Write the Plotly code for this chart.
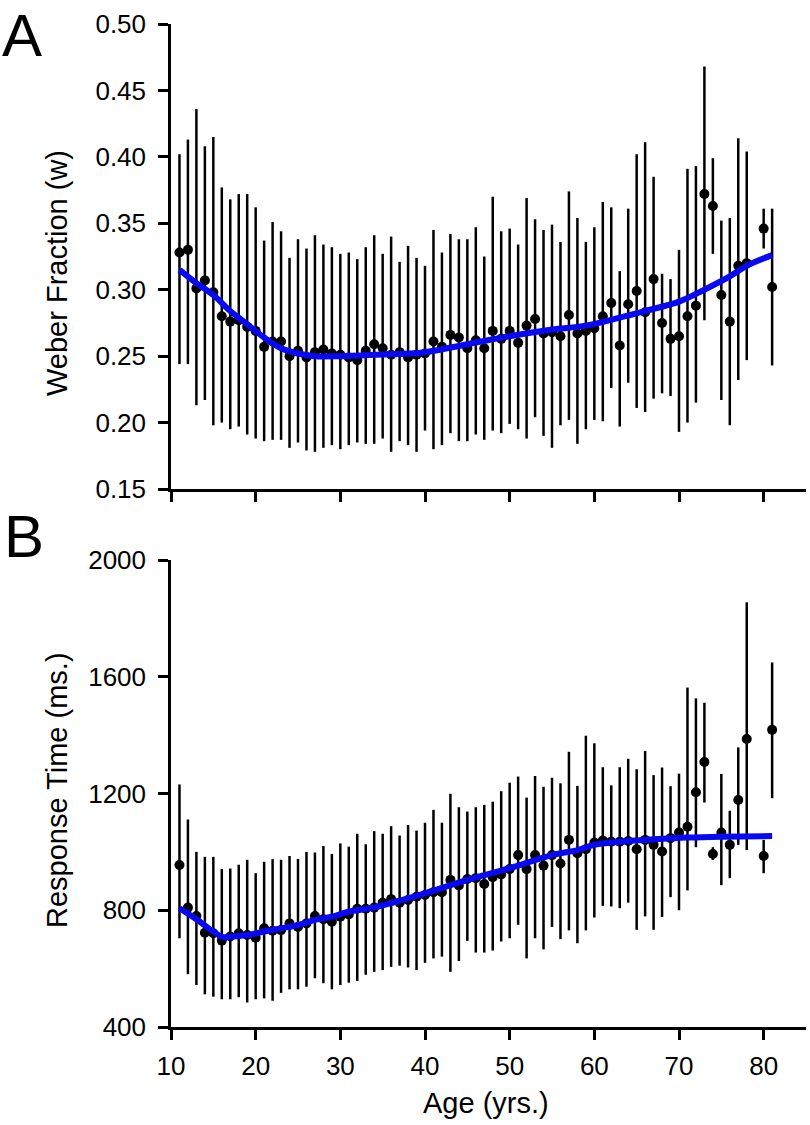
import plotly.graph_objects as go

# ---------------- data ----------------
ages = list(range(11, 79)) + [80, 81]

weber_mean = [0.328, 0.330, 0.301, 0.307, 0.298, 0.280, 0.276, 0.277, 0.272, 0.269,
              0.257, 0.261, 0.261, 0.250, 0.254, 0.249, 0.253, 0.255, 0.252, 0.251,
              0.249, 0.247, 0.254, 0.259, 0.256, 0.251, 0.253, 0.249, 0.251, 0.252,
              0.261, 0.257, 0.266, 0.264, 0.256, 0.262, 0.256, 0.269, 0.263, 0.269,
              0.260, 0.273, 0.278, 0.267, 0.268, 0.265, 0.281, 0.267, 0.269, 0.271,
              0.280, 0.290, 0.258, 0.289, 0.299, 0.283, 0.308, 0.275, 0.263, 0.265,
              0.280, 0.288, 0.372, 0.363, 0.296, 0.276, 0.318, 0.320,
              0.346, 0.302]
weber_upper = [0.402, 0.413, 0.436, 0.408, 0.415, 0.377, 0.368, 0.372, 0.372, 0.362,
               0.337, 0.351, 0.344, 0.324, 0.338, 0.331, 0.341, 0.334, 0.332, 0.327,
               0.328, 0.323, 0.332, 0.341, 0.327, 0.340, 0.321, 0.333, 0.324, 0.318,
               0.345, 0.328, 0.342, 0.338, 0.338, 0.347, 0.325, 0.370, 0.344, 0.346,
               0.334, 0.369, 0.353, 0.345, 0.349, 0.336, 0.374, 0.354, 0.336, 0.347,
               0.366, 0.362, 0.314, 0.361, 0.402, 0.411, 0.385, 0.312, 0.308, 0.330,
               0.391, 0.393, 0.468, 0.399, 0.352, 0.354, 0.414, 0.404,
               0.361, 0.361]
weber_lower = [0.244, 0.244, 0.213, 0.217, 0.198, 0.200, 0.195, 0.197, 0.191, 0.188,
               0.186, 0.187, 0.187, 0.181, 0.185, 0.179, 0.178, 0.181, 0.183, 0.180,
               0.183, 0.185, 0.184, 0.184, 0.188, 0.178, 0.186, 0.183, 0.178, 0.194,
               0.180, 0.183, 0.192, 0.186, 0.186, 0.191, 0.187, 0.194, 0.192, 0.199,
               0.195, 0.188, 0.204, 0.190, 0.181, 0.198, 0.202, 0.184, 0.195, 0.202,
               0.201, 0.226, 0.197, 0.230, 0.211, 0.208, 0.218, 0.222, 0.220, 0.193,
               0.200, 0.215, 0.277, 0.327, 0.217, 0.198, 0.232, 0.247,
               0.331, 0.243]

weber_fit_ages = [11, 13, 15, 17, 19, 21, 23, 25, 27, 30, 34, 40, 45, 50, 55, 59, 63, 66, 70, 73, 76, 78, 81]
weber_fit = [0.315, 0.305, 0.296, 0.284, 0.274, 0.264, 0.256, 0.252, 0.250, 0.250, 0.251, 0.253,
             0.259, 0.265, 0.270, 0.273, 0.279, 0.284, 0.291, 0.300, 0.310, 0.318, 0.326]

rt_mean = [955, 809, 780, 723, 721, 696, 710, 721, 715, 706,
           738, 730, 732, 755, 743, 755, 780, 769, 761, 778,
           786, 805, 805, 809, 826, 838, 826, 835, 846, 852,
           862, 862, 904, 885, 907, 910, 890, 913, 923, 941,
           989, 941, 989, 953, 989, 960, 1041, 995, 1009, 1032,
           1039, 1035, 1035, 1037, 1009, 1041, 1024, 1001, 1047, 1066,
           1086, 1204, 1308, 993, 1066, 1024, 1178, 1387,
           986, 1418]
rt_upper = [1231, 1111, 1000, 983, 983, 941, 943, 956, 973, 927,
            966, 975, 973, 986, 976, 1000, 998, 1020, 993, 1029,
            1018, 1062, 1026, 1071, 1062, 1088, 1056, 1092, 1073, 1100,
            1144, 1100, 1199, 1153, 1138, 1153, 1161, 1172, 1208, 1237,
            1258, 1186, 1260, 1223, 1254, 1235, 1343, 1226, 1398, 1372,
            1290, 1228, 1290, 1319, 1283, 1346, 1263, 1289, 1225, 1268,
            1563, 1526, 1511, 1016, 1267, 1141, 1358, 1855,
            1041, 1649]
rt_lower = [704, 581, 544, 512, 504, 495, 495, 502, 484, 495,
            498, 490, 517, 529, 529, 538, 567, 550, 529, 544,
            552, 558, 579, 589, 595, 606, 610, 604, 595, 620,
            635, 641, 589, 626, 695, 655, 655, 662, 693, 704,
            750, 635, 704, 666, 743, 701, 731, 687, 731, 775,
            815, 813, 807, 826, 733, 779, 733, 777, 845, 800,
            868, 1016, 1169, 972, 886, 910, 1024, 1006,
            927, 1184]

rt_fit_ages = [11, 13, 15, 16, 17, 19, 21, 23, 25, 27, 29, 31, 34, 40, 45, 50, 55, 58, 60, 63, 67, 71, 75, 81]
rt_fit = [807, 769, 727, 709, 709, 715, 727, 738, 749, 767, 778, 795, 810, 858, 904, 944, 989,
          1006, 1024, 1035, 1043, 1049, 1052, 1054]

age_ticks = [10, 20, 30, 40, 50, 60, 70, 80]
weber_ticks = [0.15, 0.20, 0.25, 0.30, 0.35, 0.40, 0.45, 0.50]
rt_ticks = [400, 800, 1200, 1600, 2000]

# ---------------- layout helpers ----------------
W, H = 810, 1125
L, R, T, B = 171, 4, 24, 98
PW, PH = W - L - R, H - T - B


def px_x(px):
    return (px - L) / PW


def px_y(py):
    return (H - B - py) / PH


FONT = "Liberation Sans, Arial, Helvetica, sans-serif"
BLACK = "black"
BLUE = "#0808f2"

fig = go.Figure()

fig.add_trace(go.Scatter(
    x=ages, y=weber_mean, mode="markers",
    marker=dict(color=BLACK, size=10),
    error_y=dict(type="data", symmetric=False,
                 array=[u - m for u, m in zip(weber_upper, weber_mean)],
                 arrayminus=[m - l for m, l in zip(weber_mean, weber_lower)],
                 color=BLACK, thickness=2.5, width=0),
    xaxis="x", yaxis="y", showlegend=False, cliponaxis=False))
fig.add_trace(go.Scatter(
    x=weber_fit_ages, y=weber_fit, mode="lines",
    line=dict(color=BLUE, width=6, shape="spline", smoothing=1.0),
    xaxis="x", yaxis="y", showlegend=False))

fig.add_trace(go.Scatter(
    x=ages, y=rt_mean, mode="markers",
    marker=dict(color=BLACK, size=10),
    error_y=dict(type="data", symmetric=False,
                 array=[u - m for u, m in zip(rt_upper, rt_mean)],
                 arrayminus=[m - l for m, l in zip(rt_mean, rt_lower)],
                 color=BLACK, thickness=2.5, width=0),
    xaxis="x2", yaxis="y2", showlegend=False, cliponaxis=False))
fig.add_trace(go.Scatter(
    x=rt_fit_ages, y=rt_fit, mode="lines",
    line=dict(color=BLUE, width=6, shape="spline", smoothing=1.0),
    xaxis="x2", yaxis="y2", showlegend=False))

axis_common = dict(showline=True, linecolor=BLACK, linewidth=2.5,
                   ticks="outside", ticklen=10, tickwidth=2.5, tickcolor=BLACK,
                   showgrid=False, zeroline=False,
                   tickfont=dict(family=FONT, size=26, color=BLACK))

fig.update_layout(
    width=W, height=H,
    margin=dict(l=L, r=R, t=T, b=B, pad=0),
    paper_bgcolor="white", plot_bgcolor="white",
    showlegend=False,
    xaxis=dict(domain=[0, 1], range=[10, 85], tickvals=age_ticks,
               showticklabels=False, anchor="y", **axis_common),
    yaxis=dict(domain=[px_y(489), 1.0], range=[0.15, 0.50], tickvals=weber_ticks,
               ticktext=[f"{v:.2f}" for v in weber_ticks], anchor="x",
               ticklabelstandoff=7, **axis_common),
    xaxis2=dict(domain=[0, 1], range=[10, 85], tickvals=age_ticks,
                ticktext=[str(v) for v in age_ticks], anchor="y2",
                ticklabelstandoff=4, **axis_common),
    yaxis2=dict(domain=[0, px_y(560)], range=[400, 2000], tickvals=rt_ticks,
                ticktext=[str(v) for v in rt_ticks], anchor="x2",
                ticklabelstandoff=7, **axis_common),
)

ann_font = dict(family=FONT, color=BLACK)
fig.add_annotation(text="A", xref="paper", yref="paper", x=px_x(0), y=px_y(0),
                   xanchor="left", yanchor="top", showarrow=False,
                   font=dict(size=60, **ann_font))
fig.add_annotation(text="B", xref="paper", yref="paper", x=px_x(2), y=px_y(501),
                   xanchor="left", yanchor="top", showarrow=False,
                   font=dict(size=60, **ann_font))
fig.add_annotation(text="Weber Fraction (w)", xref="paper", yref="paper",
                   x=px_x(57), y=px_y(273), xanchor="center", yanchor="middle",
                   textangle=-90, showarrow=False, font=dict(size=29, **ann_font))
fig.add_annotation(text="Response Time (ms.)", xref="paper", yref="paper",
                   x=px_x(57), y=px_y(790), xanchor="center", yanchor="middle",
                   textangle=-90, showarrow=False, font=dict(size=29, **ann_font))
fig.add_annotation(text="Age (yrs.)", xref="paper", yref="paper",
                   x=px_x(486), y=px_y(1103), xanchor="center", yanchor="middle",
                   showarrow=False, font=dict(size=29, **ann_font))

fig.write_html("out.html", config={"displayModeBar": False},
               post_script="document.body.style.margin='0';")
